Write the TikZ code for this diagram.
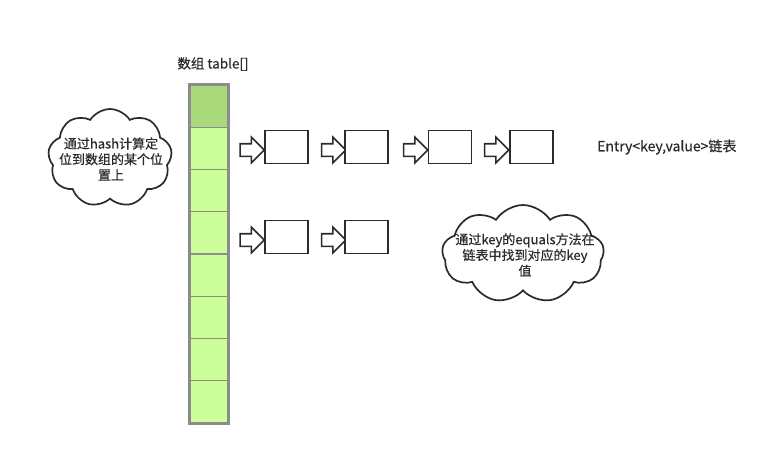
\documentclass[tikz,border=0pt]{standalone}
\usepackage{fontspec}
\setmainfont{Noto Sans CJK SC}[BoldFont=Noto Sans CJK SC, BoldFeatures={FakeBold=0.35}]
\usetikzlibrary{shapes.symbols,shapes.arrows}
\definecolor{cellgray}{HTML}{8C8C8C}
\definecolor{celldark}{HTML}{A9D97B}
\definecolor{celllight}{HTML}{CCFF99}
\definecolor{ink}{HTML}{2B2B2B}
\tikzset{
  cellbox/.style={rectangle, draw=cellgray, line width=1.3pt, fill=celllight, minimum width=38pt, minimum height=42.25pt, inner sep=0pt},
  listbox/.style={rectangle, draw=ink, line width=1.8pt, fill=white, minimum width=43pt, minimum height=33pt, inner sep=0pt},
  blockarrow/.style={single arrow, draw=ink, line width=1.6pt, fill=white, minimum height=24pt, minimum width=25pt, inner sep=0pt, single arrow head extend=6.5pt, single arrow tip angle=90, text width=0pt, text height=5.5pt, text depth=5.5pt},
  bubble/.style={cloud, cloud puffs=9, cloud puff arc=115, draw=ink, line width=1.7pt, fill=white, aspect=1.3, inner sep=0pt},
  txt/.style={font=\fontsize{13}{15.7}\selectfont\bfseries, text=ink, align=center, inner sep=0pt}
}
\begin{document}
\begin{tikzpicture}[x=1pt,y=-1pt]
\useasboundingbox (0,0) rectangle (772,456);
% array
\foreach \i in {1,...,8} {
  \node[cellbox] (c\i) at (209,{85+42.25*(\i-0.5)}) {};
}
\node[cellbox, fill=celldark] at (c1) {};
\draw[cellgray, line width=1.8pt] (c1.north west) rectangle (c8.south east);
\node[txt, font=\fontsize{13.5}{16}\selectfont\bfseries] (title) at (213,64) {数组 table[]};
% row 1
\node[blockarrow] (a1) at (249,150) {};
\node[listbox] (b1) at (286.5,147) {};
\node[blockarrow] (a2) at (330.5,150) {};
\node[listbox] (b2) at (366.5,147) {};
\node[blockarrow] (a3) at (412.5,150) {};
\node[listbox] (b3) at (450,147) {};
\node[blockarrow] (a4) at (493.5,150) {};
\node[listbox] (b4) at (531.5,147) {};
% row 2
\node[blockarrow] (a5) at (249,240) {};
\node[listbox] (b5) at (286.5,237) {};
\node[blockarrow] (a6) at (330.5,240) {};
\node[listbox] (b6) at (366.5,237) {};
\node[txt, anchor=west, font=\fontsize{14}{16}\selectfont\bfseries] (entry) at (597,147) {Entry<key,value>链表};
% clouds
\node[bubble, minimum width=124pt, minimum height=98pt] (cl1) at (110,158) {};
\node[txt] (t1) at (111,159) {通过hash计算定\\位到数组的某个位\\置上};
\node[bubble, minimum width=162pt, minimum height=98pt] (cl2) at (523,254) {};
\node[txt] (t2) at (525,255) {通过key的equals方法在\\链表中找到对应的key\\值};
\end{tikzpicture}
\end{document}
